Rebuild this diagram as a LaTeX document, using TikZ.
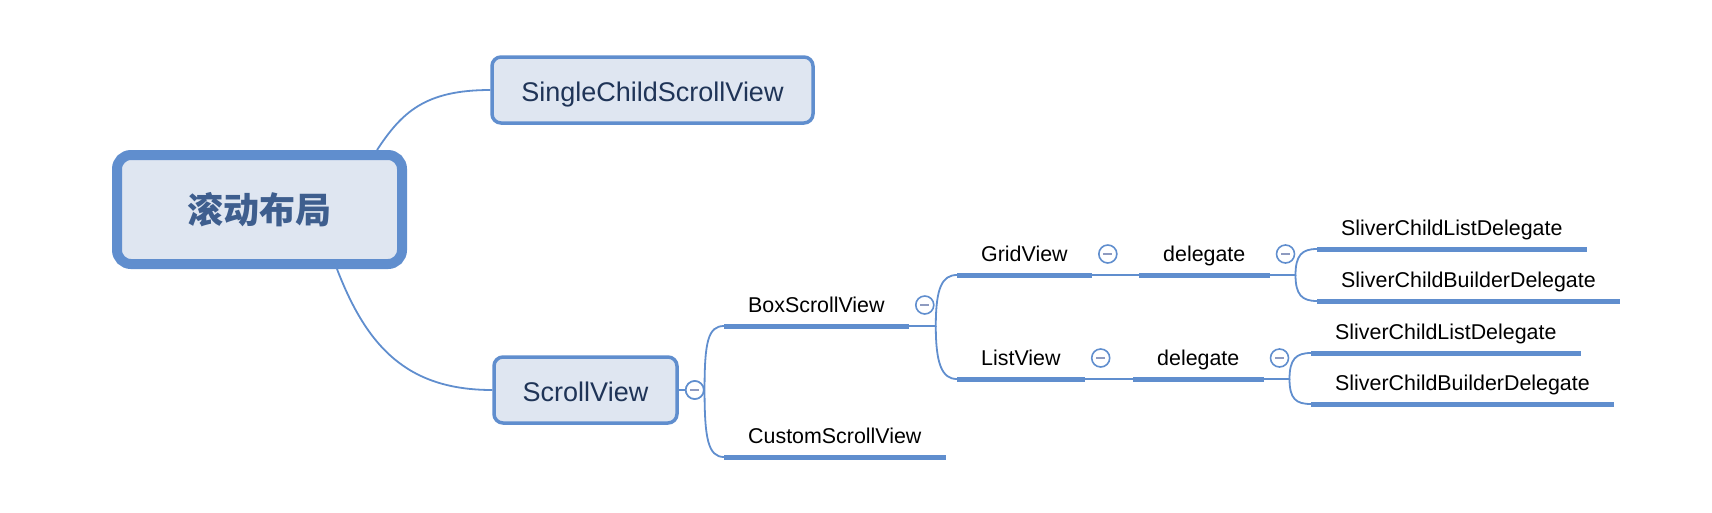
\documentclass[tikz,border=0pt]{standalone}
\usepackage{fontspec}
\setmainfont{Liberation Sans}
\newfontfamily\cjk{Noto Sans CJK SC}
\definecolor{mmblue}{HTML}{608ECE}
\definecolor{mmfill}{HTML}{DFE6F1}
\definecolor{mmtext}{HTML}{1F3457}
\definecolor{mmroot}{HTML}{3E5E8E}
\definecolor{mmminus}{HTML}{8E9BC0}
\tikzset{
    rootbox/.style={draw=mmblue, fill=mmfill, line width=10pt, rounded corners=14pt,
        minimum width=285pt, minimum height=109pt, text=mmroot,
        font=\cjk\bfseries\fontsize{36}{40}\selectfont},
    topic/.style={draw=mmblue, fill=mmfill, line width=3.5pt, rounded corners=9pt,
        minimum height=66pt, text=mmtext, text height=25pt, text depth=3pt,
        font=\fontsize{27}{30}\selectfont},
    item/.style={anchor=south west, inner xsep=24pt, inner ysep=0pt,
        text height=15pt, text depth=13pt, font=\fontsize{21.4}{24}\selectfont},
    uline/.style={draw=mmblue, line width=5pt},
    link/.style={draw=mmblue, line width=1.8pt},
    fold/.style={circle, draw=mmblue, fill=white, line width=1.6pt,
        minimum size=18pt, inner sep=0pt,
        path picture={\draw[mmminus, line width=1.8pt]
            ([xshift=-4.5pt]path picture bounding box.center) --
            ([xshift=4.5pt]path picture bounding box.center);}}
}
\begin{document}
\begin{tikzpicture}[x=1pt, y=-1pt]
            \useasboundingbox (0,0) rectangle (1712,512);

            % Root and first level
            \node[rootbox] (root) at (259.5,209.5) {滚动布局};
            \node[topic, minimum width=321pt] (single) at (652.5,90) {SingleChildScrollView};
            \node[topic, minimum width=183pt] (scroll) at (585.5,390) {ScrollView};

            \draw[link] ([xshift=-30pt]root.north east) .. controls +(25,-38) and +(-65,0) .. (single.west);
            \draw[link] ([xshift=-70pt]root.south east) .. controls +(30,78) and +(-85,0) .. (scroll.west);

            % ScrollView children
            \node[item] (box) at (724,326) {BoxScrollView};
            \node[item] (custom) at (724,457) {CustomScrollView};
            \node[item] (grid) at (957,275) {GridView};
            \node[item] (list) at (957,379) {ListView};
            \node[item] (gdel) at (1139,275) {delegate};
            \node[item] (ldel) at (1133,379) {delegate};
            \node[item] (gsl) at (1317,249) {SliverChildListDelegate};
            \node[item] (gsb) at (1317,301) {SliverChildBuilderDelegate};
            \node[item] (lsl) at (1311,353) {SliverChildListDelegate};
            \node[item] (lsb) at (1311,404) {SliverChildBuilderDelegate};

            % Junctions
            \coordinate (bj) at ([xshift=27pt]box.south east);
            \coordinate (gj) at ([xshift=26pt]gdel.south east);
            \coordinate (lj) at ([xshift=26pt]ldel.south east);

            % Branches
            \node[fold] (fs) at ([xshift=16pt]scroll.east) {};
            \draw[link] (scroll.east) -- (fs);
            \draw[link] (fs.east) .. controls +(0,-48) and +(-16,0) .. (box.south west);
            \draw[link] (fs.east) .. controls +(0,48) and +(-16,0) .. (custom.south west);

            \draw[link] (box.south east) -- (bj) .. controls +(0,-38) and +(-15,0) .. (grid.south west);
            \draw[link] (bj) .. controls +(0,38) and +(-15,0) .. (list.south west);
            \draw[link] (grid.south east) -- (gdel.south west);
            \draw[link] (list.south east) -- (ldel.south west);
            \draw[link] (gdel.south east) -- (gj) .. controls +(0,-20) and +(-15,0) .. (gsl.south west);
            \draw[link] (gj) .. controls +(0,20) and +(-15,0) .. (gsb.south west);
            \draw[link] (ldel.south east) -- (lj) .. controls +(0,-20) and +(-15,0) .. (lsl.south west);
            \draw[link] (lj) .. controls +(0,20) and +(-15,0) .. (lsb.south west);

            % Underlines
            \foreach \n in {box,custom,grid,list,gdel,ldel,gsl,gsb,lsl,lsb} {
                \draw[uline] (\n.south west) -- (\n.south east);
            }
            % Fold buttons
            \foreach \n in {box,grid,gdel,list,ldel} {
                \node[fold] (f\n) at ([shift={(16,-21)}]\n.south east) {};
            }
            \node[fold] at (fs) {};
        \end{tikzpicture}
\end{document}
